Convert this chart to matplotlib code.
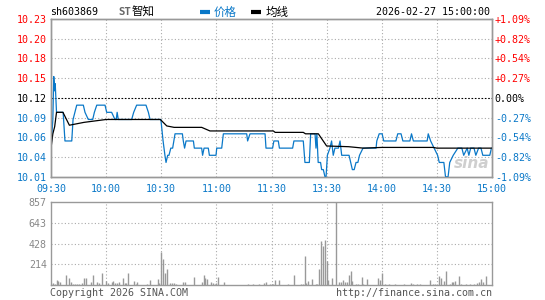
import numpy as np
import matplotlib
matplotlib.use("Agg")
from matplotlib import pyplot as plt
from matplotlib.lines import Line2D

# quote header
code = "sh603869"
name_st = "ST"
name_cn = "智知"
stamp = "2026-02-27 15:00:00"
prev_close = 10.12
max_pct = 1.09

# minute index (0 = 09:30, 120 = 11:30/13:00, 240 = 15:00)
time_labels = ["09:30", "10:00", "10:30", "11:00", "11:30", "13:30", "14:00", "14:30", "15:00"]
price_labels = ["10.23", "10.20", "10.18", "10.15", "10.12", "10.09", "10.06", "10.04", "10.01"]
pct_labels = ["+1.09%", "+0.82%", "+0.54%", "+0.27%", "0.00%", "-0.27%", "-0.54%", "-0.82%", "-1.09%"]
vol_labels = ["214", "428", "643", "857"]

# price line as (minute, price) points
price_min = [0, 1, 1.5, 2, 2.3, 3, 6.6, 7.6, 11.3, 12, 13, 14, 17.6, 18.5, 20.3, 22.7, 23.6, 24.9,
             29.4, 30.3, 33, 34.8, 35.5, 36, 36.6, 43.9, 45, 46.6, 51.7, 53, 53.9, 59.8,
             61, 62, 62.6, 63.5, 64.2, 65.2, 66.2, 67.5, 71.5, 72, 72.7, 73.5, 77.5, 78, 82,
             82.5, 83.3, 85.6, 86.2, 89.8, 90.2, 92.9, 93.8, 106.5, 107, 108.3, 116.5, 117,
             120.6, 121.3, 123.7, 124.3, 131.5, 132.2, 137.3, 138.2, 140.6, 141.3, 143.7,
             144.2, 144.7, 145.4, 146.7, 147.3, 148.2, 149.1, 149.7, 150.4, 151.8, 152.7,
             153.6, 154.5, 156.4, 157.3, 158.2, 162.2, 163.1, 164, 165, 166, 167, 167.9,
             169.8, 176.9, 177.3, 178.6, 180.2, 181.1, 187.7, 188.7, 190.5, 191.5, 195.3,
             196.2, 197.2, 204.7, 205.3, 206.6, 208.5, 210.4, 211.3, 213.8, 214.7, 216.1,
             217, 218.9, 221.4, 223.6, 224.6, 226.5, 227.4, 228.4, 230.2, 231.2, 232.7,
             234, 235, 238.8, 239.7, 240]
price_val = [10.05, 10.09, 10.15, 10.13, 10.14, 10.10, 10.10, 10.06, 10.06, 10.09, 10.10, 10.11,
             10.11, 10.10, 10.09, 10.09, 10.10, 10.11, 10.11, 10.10, 10.10, 10.09, 10.09,
             10.10, 10.09, 10.09, 10.10, 10.11, 10.11, 10.10, 10.09, 10.09,
             10.06, 10.04, 10.03, 10.04, 10.04, 10.05, 10.05, 10.07, 10.07, 10.06, 10.05,
             10.06, 10.06, 10.05, 10.05, 10.04, 10.05, 10.05, 10.04, 10.04, 10.05, 10.05,
             10.07, 10.07, 10.06, 10.07, 10.07, 10.05, 10.05, 10.06, 10.06, 10.05, 10.05,
             10.06, 10.06, 10.03, 10.03, 10.07, 10.07, 10.05, 10.07, 10.03, 10.03, 10.02,
             10.02, 10.01, 10.01, 10.04, 10.05, 10.06, 10.04, 10.05, 10.05, 10.06, 10.04,
             10.04, 10.03, 10.02, 10.02, 10.03, 10.03, 10.04, 10.05, 10.05, 10.06, 10.07,
             10.07, 10.06, 10.06, 10.07, 10.07, 10.06, 10.06, 10.07, 10.06, 10.06, 10.07,
             10.06, 10.05, 10.04, 10.03, 10.03, 10.01, 10.01, 10.03, 10.04, 10.05, 10.05,
             10.04, 10.05, 10.04, 10.05, 10.05, 10.04, 10.05, 10.05, 10.04, 10.04, 10.05,
             10.05]

# average price line
avg_min = [0, 1, 2, 3, 6.5, 10, 12, 18, 27, 30, 59.5, 63, 67, 82, 86.5, 121, 122, 137.3,
           138.5, 145.5, 150, 162, 170, 180, 208, 210, 240]
avg_val = [10.05, 10.07, 10.08, 10.10, 10.10, 10.082, 10.083, 10.086, 10.089, 10.09, 10.09,
           10.081, 10.079, 10.079, 10.074, 10.074, 10.072, 10.072, 10.070, 10.070, 10.053,
           10.052, 10.050, 10.051, 10.051, 10.050, 10.050]

# volume per minute (lots)
vol_min = [0, 1, 2, 3, 4, 5, 8, 10, 11, 12, 13, 14, 15, 17, 18, 19, 22, 23, 25, 26, 28, 30, 31,
           33, 34, 35, 36, 37, 39, 40, 41, 42, 45, 46, 47, 52, 54, 58, 59, 60, 61, 62, 63, 65,
           66, 67, 68, 72, 73, 78, 82, 83, 84, 85, 87, 88, 89, 90, 91, 94, 107, 110, 113, 116,
           117, 119, 120, 121, 122, 124, 129, 132, 136, 137, 138, 139, 140, 142, 144, 145,
           146, 147, 148, 149, 150, 151, 153, 157, 158, 159, 160, 161, 162, 163, 164, 166,
           167, 169, 170, 172, 178, 179, 180, 182, 184, 187, 192, 196, 197, 199, 201, 206,
           208, 209, 211, 212, 214, 215, 217, 218, 219, 220, 222, 223, 226, 228, 230, 232,
           233, 234, 235, 237]
vol_val = [14, 24, 10, 51, 44, 34, 102, 68, 27, 10, 14, 10, 14, 17, 75, 68, 34, 102, 34, 17, 119,
           41, 17, 27, 41, 20, 17, 27, 68, 20, 24, 119, 41, 14, 34, 14, 51, 61, 17, 339, 271,
           119, 169, 24, 17, 17, 14, 27, 27, 78, 27, 102, 68, 58, 27, 24, 14, 17, 78, 34, 7, 7,
           7, 24, 27, 14, 14, 14, 51, 51, 14, 102, 7, 14, 295, 24, 41, 61, 14, 14, 163, 457,
           406, 467, 244, 51, 68, 27, 27, 51, 34, 27, 108, 142, 41, 14, 14, 85, 14, 58, 68, 51,
           119, 10, 10, 10, 10, 17, 10, 10, 10, 51, 14, 14, 91, 68, 41, 142, 14, 27, 34, 41, 91,
           14, 14, 14, 14, 24, 27, 61, 27, 91]
vol_max = 857
cursor_min = 155

BLUE = "#0a78c8"
RED = "#ff0000"
GRAY = "#999999"
GRID = "#aaaaaa"
MONO = "DejaVu Sans Mono"
FS = 7.2

fig = plt.figure(figsize=(5.45, 3.0), dpi=100)
fig.patch.set_facecolor("white")
ax = fig.add_axes([51 / 545, 1 - 177 / 300, 441 / 545, 158 / 300])
axv = fig.add_axes([51 / 545, 1 - 285 / 300, 441 / 545, 83 / 300])

ymin = prev_close * (1 - max_pct / 100)
ymax = prev_close * (1 + max_pct / 100)
yt = np.linspace(ymax, ymin, 9)
xt = np.arange(0, 241, 30)

# price panel
ax.set_xlim(0, 240)
ax.set_ylim(ymin, ymax)
for x in xt[1:-1]:
    ax.axvline(x, color=GRID, lw=0.8, ls=(0, (1, 2)), zorder=0)
for i, y in enumerate(yt[1:-1], 1):
    if i == 4:
        ax.axhline(y, color="black", lw=0.8, ls=(0, (1.5, 1.5)), zorder=0)
    else:
        ax.axhline(y, color=GRID, lw=0.8, ls=(0, (1, 2)), zorder=0)
ax.plot(price_min, price_val, color=BLUE, lw=0.9, zorder=3)
ax.plot(avg_min, avg_val, color="black", lw=0.9, zorder=4)

colors = [RED] * 4 + ["black"] + [BLUE] * 4
ax.set_yticks(yt)
ax.set_yticklabels(price_labels, fontfamily=MONO, fontsize=FS)
ax.set_xticks(xt)
ax.set_xticklabels(time_labels, fontfamily=MONO, fontsize=FS, color=BLUE)
ax.tick_params(axis="y", length=0, pad=3)
ax.tick_params(axis="x", length=0, pad=5)
for lab, c in zip(ax.get_yticklabels(), colors):
    lab.set_color(c)

tw = ax.twinx()
tw.set_ylim(ymin, ymax)
tw.set_yticks(yt)
tw.set_yticklabels(pct_labels, fontfamily=MONO, fontsize=FS)
tw.tick_params(axis="y", length=0, pad=2)
for lab, c in zip(tw.get_yticklabels(), colors):
    lab.set_color(c)

for a in (ax, tw, axv):
    for s in a.spines.values():
        s.set_color(GRAY)
        s.set_linewidth(1)

# watermark
ax.text(0.995, 0.04, "sina", transform=ax.transAxes, ha="right", va="bottom",
        fontsize=11, fontweight="bold", style="italic", color="#bbbbbb", alpha=0.7, zorder=1)

# volume panel
axv.set_xlim(0, 240)
axv.set_ylim(0, vol_max)
for x in xt[1:-1]:
    axv.axvline(x, color=GRID, lw=0.8, ls=(0, (1, 2)), zorder=0)
vt = [int(v) for v in vol_labels]
for y in vt[:-1]:
    axv.axhline(y, color=GRID, lw=0.8, ls=(0, (1, 2)), zorder=0)
axv.axvline(cursor_min, color=GRAY, lw=1, zorder=1)
axv.vlines(vol_min, 0, vol_val, color=GRAY, lw=1, zorder=2)
axv.set_yticks(vt)
axv.set_yticklabels(vol_labels, fontfamily=MONO, fontsize=FS, color="#888888")
axv.set_xticks([])
axv.tick_params(axis="y", length=0, pad=3)

# header
ty = 1 - 12 / 300
fig.text(50 / 545, ty, code, fontfamily=MONO, fontsize=FS, va="center")
fig.text(118 / 545, ty, name_st, fontfamily=MONO, fontsize=FS + 0.5, va="center",
         color="#666666", fontweight="bold")
fig.text(132 / 545, ty, name_cn, fontfamily=["Noto Sans CJK SC", MONO], fontsize=8.3, va="center")
fig.add_artist(Line2D([200 / 545, 210 / 545], [ty, ty], color=BLUE, lw=3, solid_capstyle="butt"))
fig.text(214 / 545, ty, "价格", fontfamily=["Noto Sans CJK SC", MONO], fontsize=8.3,
         va="center", color=BLUE)
fig.add_artist(Line2D([251 / 545, 261 / 545], [ty, ty], color="black", lw=3, solid_capstyle="butt"))
fig.text(266 / 545, ty, "均线", fontfamily=["Noto Sans CJK SC", MONO], fontsize=8.3,
         va="center", color="black")
fig.text(490 / 545, ty, stamp, fontfamily=MONO, fontsize=FS, va="center", ha="right")

# footer
fy = 1 - 293 / 300
fig.text(50 / 545, fy, "Copyright 2026 SINA.COM", fontfamily=MONO, fontsize=FS,
         va="center", color="#555555")
fig.text(492 / 545, fy, "http://finance.sina.com.cn", fontfamily=MONO, fontsize=FS,
         va="center", ha="right", color="#555555")

fig.savefig("out.png", dpi=100)
